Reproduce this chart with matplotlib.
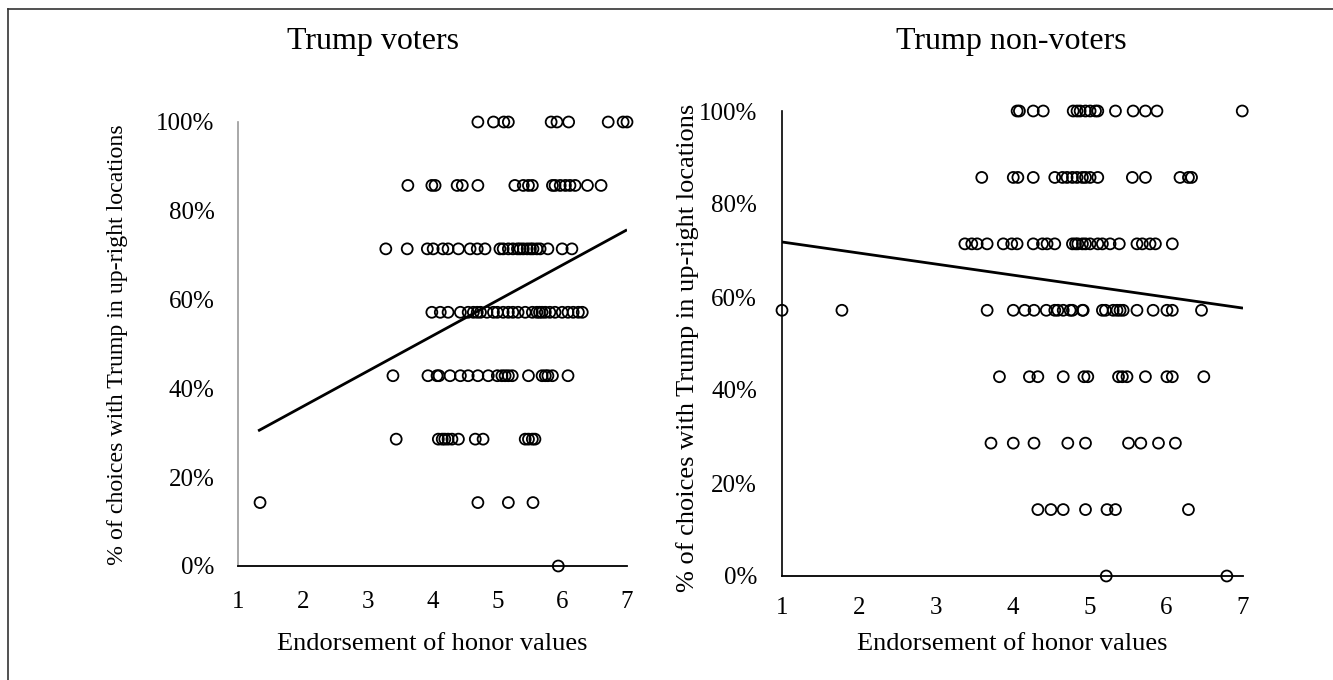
import matplotlib
matplotlib.use("Agg")
from matplotlib import pyplot as plt
from matplotlib.lines import Line2D

plt.rcParams["font.family"] = ["Liberation Serif", "DejaVu Serif"]

# Honor-values score of each participant, grouped by how many of the 7 choices
# put Trump in an up-right location (index 0 = none, index 7 = all of them)
voters_rows = [
    [5.94],
    [1.34, 4.70, 5.17, 5.55],
    [3.44, 4.09, 4.15, 4.19, 4.24, 4.30, 4.40, 4.66, 4.78, 5.43, 5.48, 5.54, 5.58],
    [3.39, 3.93, 4.07, 4.10, 4.27, 4.43, 4.55, 4.70, 4.86, 5.00, 5.07, 5.12, 5.17,
     5.23, 5.48, 5.69, 5.74, 5.78, 5.85, 6.09],
    [3.99, 4.12, 4.24, 4.43, 4.55, 4.63, 4.69, 4.74, 4.84, 4.94, 5.00, 5.09, 5.17,
     5.24, 5.32, 5.43, 5.54, 5.61, 5.65, 5.69, 5.74, 5.81, 5.89, 6.00, 6.09, 6.17,
     6.25, 6.31],
    [3.28, 3.61, 3.92, 4.01, 4.16, 4.24, 4.40, 4.58, 4.69, 4.81, 5.04, 5.09, 5.17,
     5.24, 5.31, 5.35, 5.40, 5.46, 5.51, 5.55, 5.61, 5.66, 5.78, 6.00, 6.15],
    [3.62, 3.99, 4.04, 4.38, 4.46, 4.70, 5.27, 5.40, 5.48, 5.54, 5.85, 5.89, 5.97,
     6.05, 6.12, 6.20, 6.39, 6.60],
    [4.70, 4.94, 5.10, 5.17, 5.83, 5.92, 6.10, 6.71, 6.94, 7.00],
]

non_voters_rows = [
    [5.22, 6.79],
    [4.33, 4.50, 4.66, 4.95, 5.23, 5.34, 6.29],
    [3.72, 4.01, 4.28, 4.72, 4.95, 5.51, 5.67, 5.90, 6.12],
    [3.83, 4.22, 4.33, 4.66, 4.93, 4.98, 5.38, 5.43, 5.49, 5.73, 6.01, 6.08, 6.49],
    [1.00, 1.78, 3.67, 4.01, 4.16, 4.28, 4.44, 4.55, 4.59, 4.66, 4.75, 4.78, 4.91,
     4.92, 5.17, 5.21, 5.31, 5.36, 5.40, 5.44, 5.62, 5.83, 6.01, 6.08, 6.46],
    [3.38, 3.47, 3.54, 3.67, 3.88, 3.99, 4.06, 4.27, 4.39, 4.45, 4.55, 4.78, 4.82,
     4.85, 4.91, 4.95, 5.01, 5.11, 5.17, 5.27, 5.39, 5.62, 5.69, 5.79, 5.86, 6.08],
    [3.60, 4.01, 4.07, 4.27, 4.55, 4.65, 4.71, 4.78, 4.84, 4.91, 4.95, 5.01, 5.11,
     5.56, 5.73, 6.18, 6.29, 6.33],
    [4.06, 4.09, 4.27, 4.40, 4.79, 4.84, 4.88, 4.95, 5.01, 5.08, 5.11, 5.34, 5.57,
     5.73, 5.88, 6.99],
]

# Linear trend lines: (intercept, slope, x start, x end)
voters_fit = (0.200, 0.0796, 1.31, 7.0)
non_voters_fit = (0.742, -0.0237, 1.0, 7.0)

x_ticks = [1, 2, 3, 4, 5, 6, 7]
y_ticks = [0.0, 0.2, 0.4, 0.6, 0.8, 1.0]
y_tick_labels = ["0%", "20%", "40%", "60%", "80%", "100%"]

titles = ["Trump voters", "Trump non-voters"]
x_label = "Endorsement of honor values"
y_label = "% of choices with Trump in up-right locations"

W, H = 1333, 680


def flatten(rows):
    xs, ys = [], []
    for k, row in enumerate(rows):
        for v in row:
            xs.append(v)
            ys.append(k / 7)
    return xs, ys


def draw_panel(ax, rows, fit, yaxis_color, xpad, ypad):
    xs, ys = flatten(rows)
    ax.scatter(xs, ys, s=62, facecolors="none", edgecolors="black",
               linewidths=1.3, clip_on=False, zorder=3)
    b0, b1, x0, x1 = fit
    ax.plot([x0, x1], [b0 + b1 * x0, b0 + b1 * x1], color="black", lw=2.0,
            solid_capstyle="butt", zorder=4)

    ax.set_xlim(1, 7)
    ax.set_ylim(0, 1)
    ax.set_xticks(x_ticks)
    ax.set_yticks(y_ticks)
    ax.set_yticklabels(y_tick_labels)
    ax.tick_params(length=0, labelsize=18)
    ax.tick_params(axis="x", pad=xpad)
    ax.tick_params(axis="y", pad=ypad)
    for side in ("top", "right"):
        ax.spines[side].set_visible(False)
    ax.spines["bottom"].set_linewidth(1.3)
    ax.spines["left"].set_color(yaxis_color)
    ax.spines["left"].set_linewidth(1.2)
    ax.patch.set_visible(False)


def main():
    fig = plt.figure(figsize=(W / 100, H / 100), dpi=100)

    # pixel boxes of the two plotting areas: (left, top, right, bottom)
    boxes = [(238, 122, 627, 566), (782, 111, 1243, 576)]
    axes = []
    for l, t, r, b in boxes:
        axes.append(fig.add_axes([l / W, 1 - b / H, (r - l) / W, (b - t) / H]))

    draw_panel(axes[0], voters_rows, voters_fit, "#9a9a9a", 18, 17)
    draw_panel(axes[1], non_voters_rows, non_voters_fit, "black", 15, 18)

    # titles and axis labels
    fig.text(373 / W, 1 - 42 / H, titles[0], ha="center", va="center", fontsize=23)
    fig.text(1011 / W, 1 - 42 / H, titles[1], ha="center", va="center", fontsize=23)
    fig.text(432 / W, 1 - 644 / H, x_label, ha="center", va="center", fontsize=19)
    fig.text(1012 / W, 1 - 644 / H, x_label, ha="center", va="center", fontsize=19)
    fig.text(118 / W, 1 - 345 / H, y_label, ha="center", va="center",
             rotation=90, fontsize=17.2)
    fig.text(688 / W, 1 - 348 / H, y_label, ha="center", va="center",
             rotation=90, fontsize=19)

    # frame around the whole figure
    fig.add_artist(Line2D([8 / W, 1], [1 - 9 / H, 1 - 9 / H], color="#333333", lw=1.2))
    fig.add_artist(Line2D([8 / W, 8 / W], [0, 1 - 9 / H], color="#333333", lw=1.2))

    fig.savefig("out.png", dpi=100, facecolor="white")


if __name__ == "__main__":
    main()
